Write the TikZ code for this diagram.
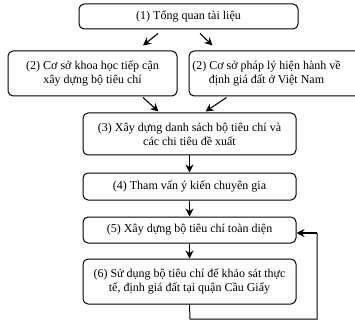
\documentclass[tikz,border=0pt]{standalone}
\usepackage{fontspec}
\setmainfont{Liberation Serif}
\usetikzlibrary{arrows.meta,calc}
\begin{document}
\begin{tikzpicture}[x=1pt,y=-1pt,
  box/.style={draw,line width=1pt,rounded corners=5pt,align=center,inner sep=0pt,font=\fontsize{12}{14}\selectfont},
  lbl/.style={align=center,inner sep=0pt,font=\fontsize{12}{14}\selectfont},
  arr/.style={line width=1.1pt,-{Stealth[length=8pt,width=8pt]}},
  ln/.style={line width=1pt}]
\useasboundingbox (0,0) rectangle (355,320);
\node[box,minimum width=219pt,minimum height=25pt] (b1) at (188.5,16.5) {(1) Tổng quan tài liệu};
\node[box,minimum width=169pt,minimum height=45pt] (b2l) at (92.5,73.5) {(2) Cơ sở khoa học tiếp cận\\xây dựng bộ tiêu chí};
\node[box,minimum width=173pt,minimum height=45pt] (b2r) at (275.5,73.5) {};
\node[lbl] (b2rt) at (266.5,73.5) {(2) Cơ sở pháp lý hiện hành về\\định giá đất ở Việt Nam};
\node[box,minimum width=213pt,minimum height=42pt] (b3) at (189.5,134) {(3) Xây dựng danh sách bộ tiêu chí và\\các chi tiêu đề xuất};
\node[box,minimum width=213pt,minimum height=27pt] (b4) at (189.5,186.5) {(4) Tham vấn ý kiến chuyên gia};
\node[box,minimum width=213pt,minimum height=26pt] (b5) at (189.5,230) {(5) Xây dựng bộ tiêu chí toàn diện};
\node[box,minimum width=213pt,minimum height=45pt] (b6) at (189.5,281.5) {(6) Sử dụng bộ tiêu chí để khảo sát thực\\tế, định giá đất tại quận Cầu Giấy};
\draw[arr] ([shift={(-30.5,4)}]b1.south) -- ([shift={(50.5,-5)}]b2l.north);
\draw[arr] ([shift={(11.5,4)}]b1.south) -- ([shift={(24,-5)}]b2r.north west);
\draw[arr] ([shift={(50.5,1)}]b2l.south) -- ([shift={(-31,-1)}]b3.north);
\draw[arr] ([shift={(38,1)}]b2r.south west) -- ([shift={(16,-1)}]b3.north);
\draw[arr] (b3.south) -- (b4.north);
\draw[arr] (b4.south) -- (b5.north);
\draw[arr] (b5.south) -- (b6.north);
\coordinate (c1) at (190,319);
\coordinate (c2) at (317,319);
\coordinate (c3) at (317,233);
\draw[ln] (b6.south) -- (c1) -- (c2) -- (c3);
\draw[arr] (c3) -- (b5.east |- c3);
\end{tikzpicture}
\end{document}
